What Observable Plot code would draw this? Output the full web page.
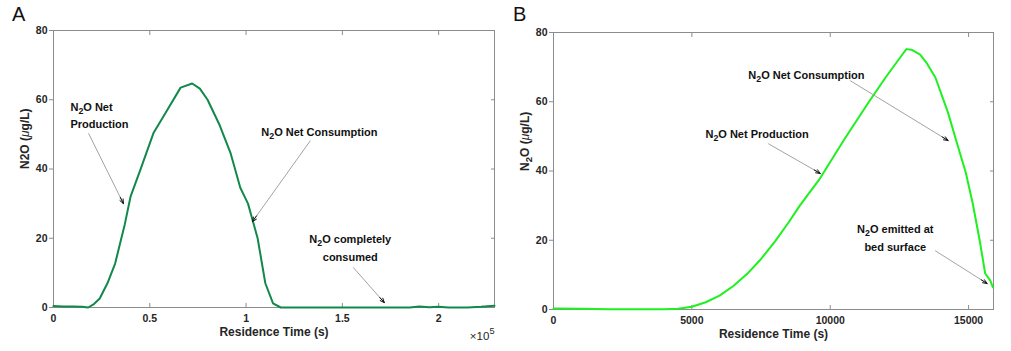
<!DOCTYPE html>
<html><head><meta charset="utf-8">
<script src="https://cdn.jsdelivr.net/npm/d3@7"></script>
<script src="https://cdn.jsdelivr.net/npm/@observablehq/plot@0.6"></script>
<style>
body{margin:0;background:#fff;}
#wrap{position:relative;width:1011px;height:351px;display:flex;}
.letter{position:absolute;top:4px;font:20px/1 "Liberation Sans",Arial,sans-serif;color:#111;}
</style></head><body>
<div id="wrap"><div class="letter" style="left:12px">A</div><div class="letter" style="left:513px">B</div></div>
<script>
// ---- Panel A data (residence time in s, N2O in µg/L)
const timeA = [0, 5000, 10000, 15000, 18000, 21000, 24000, 28000, 32000, 37000, 40000, 45000, 52000, 58000, 66000, 72000, 76000, 80000, 86000, 92000, 97000, 101000, 106000, 110000, 114000, 118000, 130000, 150000, 170000, 185000, 190000, 195000, 200000, 205000, 215000, 222000, 229000];
const n2oA  = [0.4, 0.3, 0.3, 0.2, 0, 1.0, 2.6, 7, 12.7, 24, 32, 39.6, 50.5, 56, 63.5, 64.7, 63.2, 60, 53, 44.5, 34.6, 30, 20, 7, 1.2, 0, 0, 0, 0, 0, 0.3, 0.1, 0.2, 0, 0, 0.2, 0.5];
// ---- Panel B data
const timeB = [0, 1000, 2000, 3000, 4000, 4500, 5000, 5500, 6000, 6500, 7000, 7500, 8000, 8500, 8900, 9600, 10500, 11400, 12000, 12500, 12750, 12950, 13250, 13500, 13800, 14250, 14600, 14900, 15150, 15400, 15600, 15780, 15880];
const n2oB  = [0.3, 0.2, 0.1, 0.1, 0.1, 0.2, 0.8, 2.1, 4, 6.8, 10.3, 14.6, 19.6, 25.2, 30, 37.5, 49, 60, 67, 72.5, 75.2, 75, 73.6, 71, 67, 57, 47.5, 39.5, 30.6, 20, 10.4, 8.4, 6.4];

const yTicks = [0, 20, 40, 60, 80];
const xTicksA = [0, 50000, 100000, 150000, 200000];
const xTicksB = [0, 5000, 10000, 15000];

const annA = [
  {text: "N_2O Net\nProduction", x: 8800, y: 55.9, anchor: "start"},
  {text: "N_2O Net Consumption", x: 107900, y: 51.1, anchor: "start"},
  {text: "N_2O completely\nconsumed", x: 154100, y: 17.6, anchor: "middle"}
];
const arrowsA = [
  {x1: 18200, y1: 50.3, x2: 36300, y2: 30.0},
  {x1: 133400, y1: 48.2, x2: 103300, y2: 24.8},
  {x1: 155600, y1: 11.6, x2: 171800, y2: 1.4}
];
const annB = [
  {text: "N_2O Net Consumption", x: 7040, y: 68.2, anchor: "start"},
  {text: "N_2O Net Production", x: 5490, y: 51.1, anchor: "start"},
  {text: "N_2O emitted at\nbed surface", x: 12350, y: 21.1, anchor: "middle"}
];
const arrowsB = [
  {x1: 10720, y1: 66.1, x2: 14260, y2: 48.8},
  {x1: 7760, y1: 47.9, x2: 9640, y2: 39.3},
  {x1: 13790, y1: 17.0, x2: 15670, y2: 7.5}
];

const FONT = '"Liberation Sans",Arial,sans-serif';
const FS = {tick: 10.5, ann: 11, label: 12};
const AX = "#8c8c8c", TX = "#262626";
const none = () => "";
const HEAD = 7;

function panel(c, lens){
  const data = c.t.map((x, i) => ({x, y: c.v[i]}));
  const arrowMarks = lens ? c.arrows.map((a, i) => Plot.arrow([a], {x1: "x1", y1: "y1", x2: "x2", y2: "y2", stroke: "#111", strokeWidth: 1, headLength: HEAD, headAngle: 45, insetStart: Math.max(0, lens[i] - HEAD)})) : [];
  return Plot.plot({
    width: c.width, height: 351,
    marginLeft: c.ml, marginRight: c.mr, marginTop: c.mt, marginBottom: c.mb,
    x: {domain: c.xDomain}, y: {domain: [0, 80]},
    style: {fontFamily: FONT, fontSize: FS.tick + "px", fontWeight: "bold", color: TX, background: "#fff"},
    marks: [
      Plot.frame({stroke: AX}),
      Plot.axisY({ticks: yTicks, tickSize: 4, tickFormat: none, label: null, stroke: AX}),
      Plot.axisY({ticks: yTicks, tickSize: 0, tickPadding: 6, label: null, fill: TX, fontSize: FS.tick}),
      Plot.axisY({anchor: "right", ticks: [20, 40, 60], tickSize: -4, tickFormat: none, label: null, stroke: AX}),
      Plot.axisX({ticks: c.xTicks, tickSize: -4, tickFormat: none, label: null, stroke: AX}),
      Plot.axisX({anchor: "top", ticks: c.xTicks, tickSize: -4, tickFormat: none, label: null, stroke: AX}),
      Plot.axisX({ticks: c.xTicks, tickSize: 0, tickPadding: 7, tickFormat: c.xFmt, label: null, fill: TX, fontSize: FS.tick}),
      Plot.line(data, {x: "x", y: "y", stroke: c.color, strokeWidth: 2, curve: "linear"}),
      Plot.link(c.arrows, {x1: "x1", y1: "y1", x2: "x2", y2: "y2", stroke: "#a3a3a3", strokeWidth: 1, insetEnd: HEAD - 1}),
      ...arrowMarks,
      Plot.text(c.ann, {filter: d => d.anchor === "start", x: "x", y: "y", text: "text", textAnchor: "start", lineHeight: 1.6, fontSize: FS.ann, fill: "#111"}),
      Plot.text(c.ann, {filter: d => d.anchor === "middle", x: "x", y: "y", text: "text", textAnchor: "middle", lineHeight: 1.6, fontSize: FS.ann, fill: "#111"}),
      Plot.text([c.ylabel], {text: d => d, frameAnchor: "left", rotate: -90, dx: -28, fontSize: FS.label, fill: TX}),
      Plot.text(["Residence Time (s)"], {text: d => d, frameAnchor: "bottom", dy: 28, fontSize: FS.label, fill: TX}),
      ...(c.sci ? [Plot.text([c.sci], {text: d => d, frameAnchor: "bottom-right", textAnchor: "end", dy: 32, fontSize: FS.tick + 1, fontWeight: "normal", fill: TX})] : [])
    ]
  });
}
function build(c){
  const first = panel(c, null);
  const sx = first.scale("x"), sy = first.scale("y");
  const lens = c.arrows.map(a => Math.hypot(sx.apply(a.x2) - sx.apply(a.x1), sy.apply(a.y2) - sy.apply(a.y1)));
  return panel(c, lens);
}

const svgNS = "http://www.w3.org/2000/svg";
function decorate(root){
  const w = document.createTreeWalker(root, NodeFilter.SHOW_TEXT);
  const nodes = []; while (w.nextNode()) nodes.push(w.currentNode);
  for (const n of nodes){
    const s = n.nodeValue;
    if (!/_2|\^5|μ/.test(s)) continue;
    const frag = document.createDocumentFragment();
    for (const p of s.split(/(_2|\^5|μ)/)){
      if (!p) continue;
      if (p === "_2"){ const t = document.createElementNS(svgNS, "tspan"); t.setAttribute("baseline-shift", "-3"); t.setAttribute("font-size", "80%"); t.textContent = "2"; frag.appendChild(t); }
      else if (p === "^5"){ const t = document.createElementNS(svgNS, "tspan"); t.setAttribute("baseline-shift", "6"); t.setAttribute("font-size", "80%"); t.textContent = "5"; frag.appendChild(t); }
      else if (p === "μ"){ const t = document.createElementNS(svgNS, "tspan"); t.setAttribute("font-style", "italic"); t.setAttribute("font-weight", "normal"); t.textContent = "μ"; frag.appendChild(t); }
      else frag.appendChild(document.createTextNode(p));
    }
    n.parentNode.replaceChild(frag, n);
  }
}

const wrap = document.getElementById("wrap");
const A = build({width: 500, ml: 53, mr: 6, mt: 30, mb: 44, xDomain: [0, 229000], xTicks: xTicksA,
  xFmt: d => d === 0 ? "0" : String(d / 1e5), t: timeA, v: n2oA, color: "#12894b", ann: annA, arrows: arrowsA,
  ylabel: "N2O (μg/L)", sci: "×10^5"});
const B = build({width: 511, ml: 53, mr: 18, mt: 32, mb: 42, xDomain: [0, 15900], xTicks: xTicksB,
  xFmt: d => String(d), t: timeB, v: n2oB, color: "#1ff01f", ann: annB, arrows: arrowsB,
  ylabel: "N_2O (μg/L)", sci: null});
decorate(A); decorate(B);
wrap.insertBefore(A, wrap.firstChild);
wrap.insertBefore(B, wrap.children[1]);
</script>
</body></html>
